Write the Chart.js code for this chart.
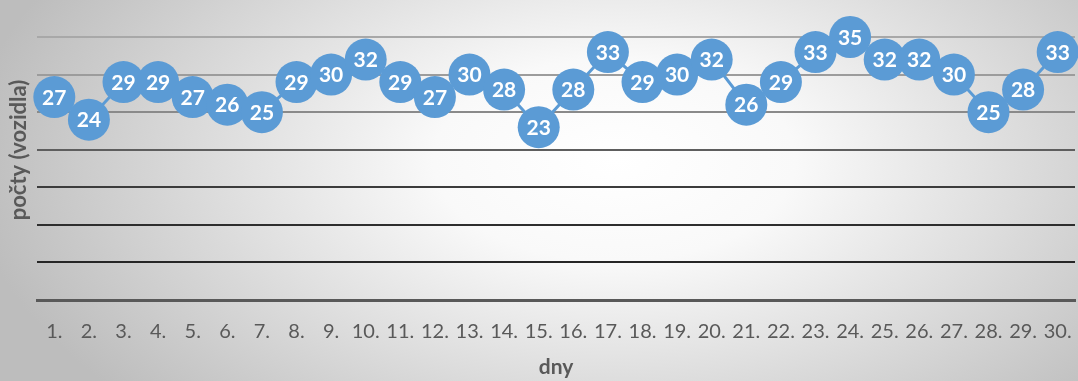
<!DOCTYPE html>
<html>
<head>
<meta charset="utf-8">
<script src="https://cdn.jsdelivr.net/npm/chart.js@4/dist/chart.umd.min.js"></script>
<style>
  html, body { margin: 0; padding: 0; }
  body {
    width: 1078px; height: 381px; overflow: hidden;
    background: radial-gradient(ellipse 60% 95% at 57% 42%, #ffffff 0%, #f9f9f9 28%, #bdbdbd 100%);
  }
  #wrap { position: relative; width: 1078px; height: 381px; }
</style>
</head>
<body>
<div id="wrap"><canvas id="c" width="1078" height="381"></canvas></div>
<script>
// Daily vehicle counts for days 1–30
const days = ['1.', '2.', '3.', '4.', '5.', '6.', '7.', '8.', '9.', '10.',
              '11.', '12.', '13.', '14.', '15.', '16.', '17.', '18.', '19.', '20.',
              '21.', '22.', '23.', '24.', '25.', '26.', '27.', '28.', '29.', '30.'];
const counts = [27, 24, 29, 29, 27, 26, 25, 29, 30, 32,
                29, 27, 30, 28, 23, 28, 33, 29, 30, 32,
                26, 29, 33, 35, 32, 32, 30, 25, 28, 33];
const yTicks = [0, 5, 10, 15, 20, 25, 30, 35];
const yTitle = 'počty (vozidla)';
const xTitle = 'dny';

const BLUE = '#5b9bd5';
const TEXT = '#595959';
const FONT = 'Lato, "Open Sans", sans-serif';

// gridline shade per value: lighter near the top, darker toward the base
const gridShade = {35: '#a8a8a8', 30: '#9c9c9c', 25: '#8a8a8a', 20: '#5e5e5e', 15: '#3c3c3c', 10: '#2e2e2e', 5: '#262626', 0: '#595959'};

// value labels inside each marker
const valueLabels = {
  id: 'valueLabels',
  afterDatasetsDraw(chart) {
    const ctx = chart.ctx;
    const meta = chart.getDatasetMeta(0);
    ctx.save();
    ctx.fillStyle = '#ffffff';
    ctx.font = 'bold 21px ' + FONT;
    ctx.textAlign = 'center';
    ctx.textBaseline = 'middle';
    meta.data.forEach((pt, i) => {
      ctx.fillText(String(counts[i]), pt.x, pt.y + 1);
    });
    ctx.restore();
  }
};

// rotated y-axis title, placed off-centre as in the layout
const yAxisTitle = {
  id: 'yAxisTitle',
  afterDraw(chart) {
    const ctx = chart.ctx;
    ctx.save();
    ctx.translate(19, 150);
    ctx.rotate(-Math.PI / 2);
    ctx.fillStyle = TEXT;
    ctx.font = 'bold 22px ' + FONT;
    ctx.textAlign = 'center';
    ctx.textBaseline = 'middle';
    ctx.fillText(yTitle, 0, 0);
    ctx.restore();
  }
};

new Chart(document.getElementById('c'), {
  type: 'line',
  data: {
    labels: days,
    datasets: [{
      data: counts,
      borderColor: BLUE,
      backgroundColor: BLUE,
      borderWidth: 3,
      pointRadius: 21,
      pointHoverRadius: 21,
      pointBackgroundColor: BLUE,
      pointBorderWidth: 0,
      tension: 0,
      clip: false
    }]
  },
  options: {
    responsive: false,
    animation: false,
    events: [],
    layout: { autoPadding: false, padding: { top: 37, right: 3, bottom: 0, left: 0 } },
    plugins: { legend: { display: false }, tooltip: { enabled: false } },
    scales: {
      x: {
        offset: true,
        grid: { display: false, drawTicks: false },
        border: { display: true, color: '#595959', width: 3 },
        ticks: { color: TEXT, font: { family: FONT, size: 20 }, padding: 20, maxRotation: 0, autoSkip: false },
        title: { display: true, text: xTitle, color: TEXT, font: { family: FONT, size: 21, weight: 'bold' }, padding: { top: 10, bottom: 1 } },
        afterFit(s) { s.height = 81; s.paddingLeft = 0; s.paddingRight = 0; }
      },
      y: {
        min: 0,
        max: 35,
        afterBuildTicks(s) { s.ticks = yTicks.map(v => ({ value: v })); },
        grid: {
          drawTicks: false,
          lineWidth: (c) => (c.tick && c.tick.value === 0 ? 0 : 2),
          color: (c) => gridShade[c.tick ? c.tick.value : 0] || '#595959'
        },
        border: { display: false },
        ticks: { display: false },
        afterFit(s) { s.width = 37; }
      }
    }
  },
  plugins: [valueLabels, yAxisTitle]
});
</script>
</body>
</html>
